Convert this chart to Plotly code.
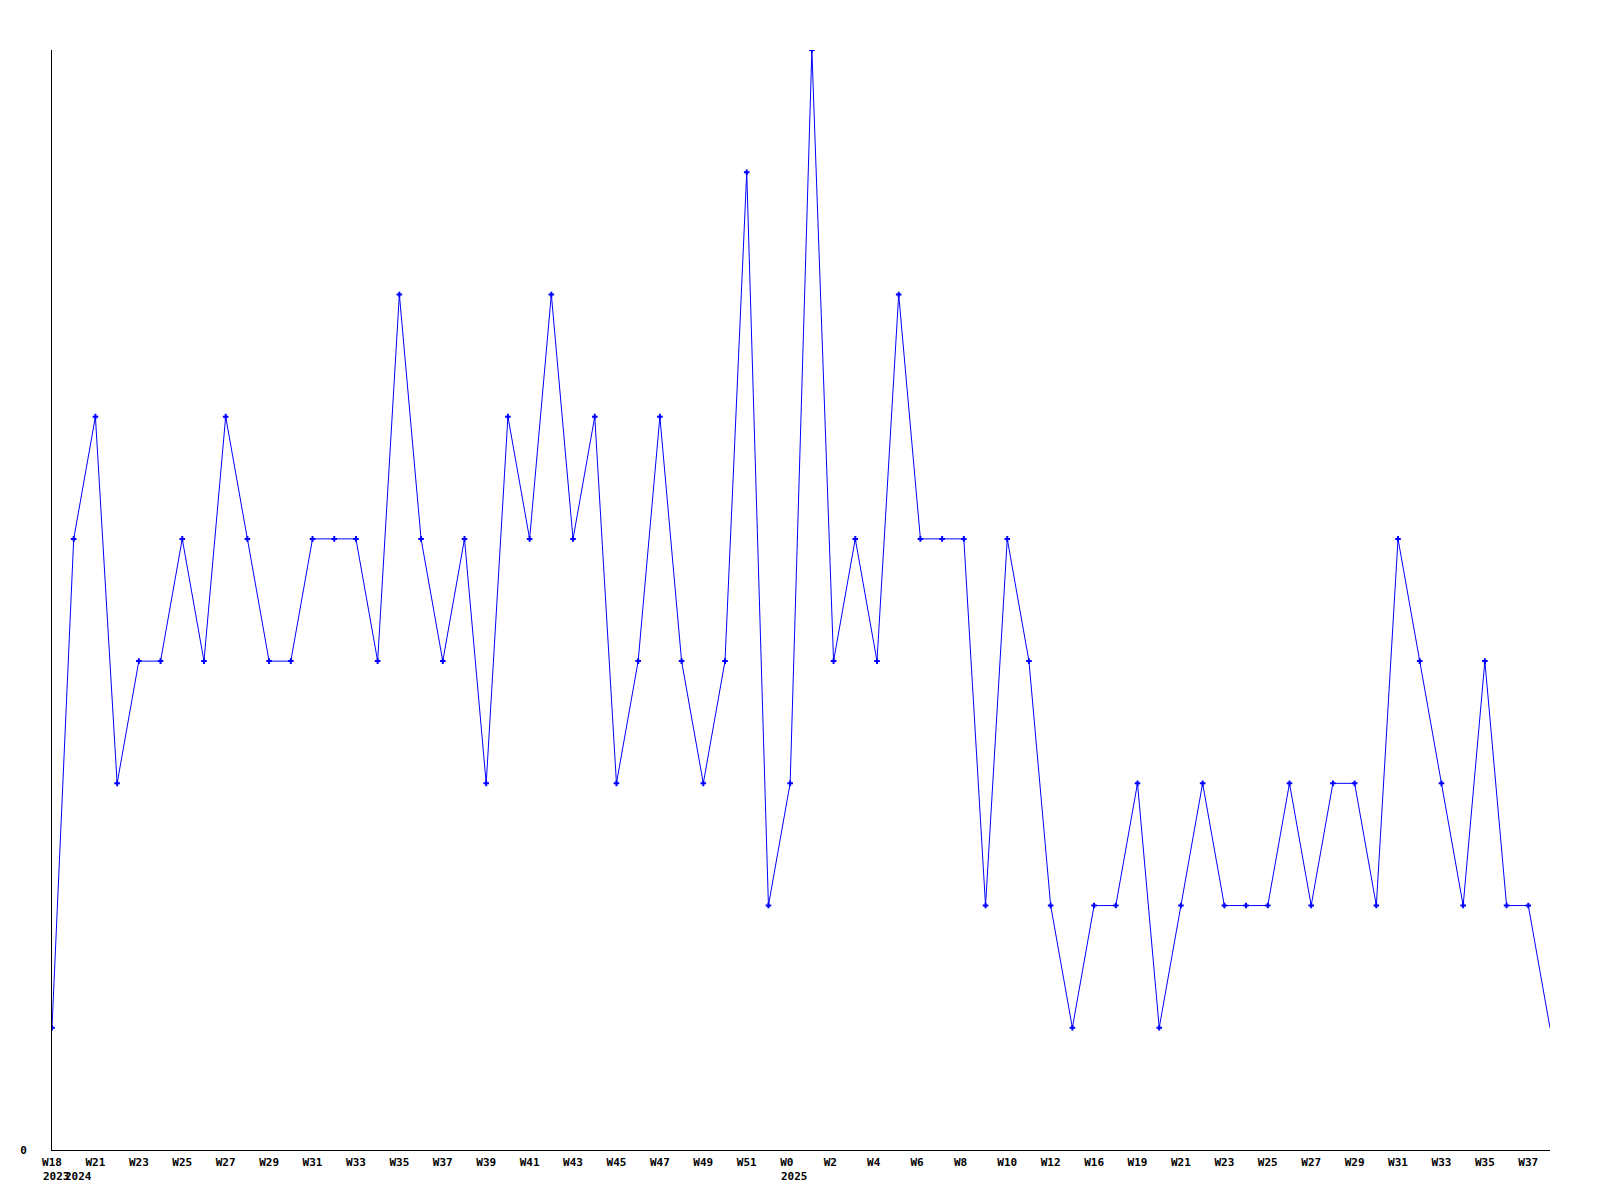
import plotly.graph_objects as go

# semanas (categorias) e contagens
weeks = [
    "W18", "W20", "W21", "W22", "W23", "W24", "W25", "W26", "W27", "W28",
    "W29", "W30", "W31", "W32", "W33", "W34", "W35", "W36", "W37", "W38",
    "W39", "W40", "W41", "W42", "W43", "W44", "W45", "W46", "W47", "W48",
    "W49", "W50", "W51", "W52", "W0", "W1", "W2", "W3", "W4", "W5",
    "W6", "W7", "W8", "W9", "W10", "W11", "W12", "W14", "W16", "W17",
    "W19", "W20", "W21", "W22", "W23", "W24", "W25", "W26", "W27", "W28",
    "W29", "W30", "W31", "W32", "W33", "W34", "W35", "W36", "W37", "W38",
]
counts = [
    1, 5, 6, 3, 4, 4, 5, 4, 6, 5,
    4, 4, 5, 5, 5, 4, 7, 5, 4, 5,
    3, 6, 5, 7, 5, 6, 3, 4, 6, 4,
    3, 4, 8, 2, 3, 9, 4, 5, 4, 7,
    5, 5, 5, 2, 5, 4, 2, 1, 2, 2,
    3, 1, 2, 3, 2, 2, 2, 3, 2, 3,
    3, 2, 5, 4, 3, 2, 4, 2, 2, 1,
]
# rótulo de ano na posição da semana
year_pos = [0, 1, 34]
year_text = ["2023", "2024", "2025"]

idx = list(range(len(weeks)))
tick_idx = idx[::2]
tick_txt = [weeks[i].ljust(3, "\u00a0") for i in tick_idx]

FONT = dict(family="DejaVu Sans Mono", size=11, color="black", weight="bold")

fig = go.Figure()

fig.add_trace(go.Scatter(
    x=idx, y=counts,
    mode="lines",
    line=dict(color="#0000ff", width=1),
    hoverinfo="skip",
))
# marcadores (o último ponto fica cortado na borda)
fig.add_trace(go.Scatter(
    x=idx[:-1], y=counts[:-1],
    mode="markers",
    marker=dict(symbol="cross-thin", size=4, color="#0000ff",
                line=dict(color="#0000ff", width=2)),
    hoverinfo="skip",
))

for pos, txt in zip(year_pos, year_text):
    fig.add_annotation(
        x=pos, xref="x", y=-0.0245, yref="paper",
        text=txt, showarrow=False,
        xanchor="left", yanchor="middle", xshift=-11,
        font=FONT,
    )

# a página tem 8px de margem no body
fig.update_layout(
    width=1584, height=1184,
    margin=dict(l=42, r=42, t=42, b=42),
    plot_bgcolor="white", paper_bgcolor="white",
    showlegend=False,
    font=FONT,
    xaxis=dict(
        range=[0, len(weeks) - 1],
        tickmode="array", tickvals=tick_idx, ticktext=tick_txt,
        showgrid=False, zeroline=False,
        showline=True, linecolor="black", linewidth=1,
        ticks="", tickangle=0, ticklabelstandoff=2,
        tickfont=FONT,
    ),
    yaxis=dict(
        range=[0, max(counts)],
        tickmode="array", tickvals=[0], ticktext=["0"],
        showgrid=False, zeroline=False,
        showline=True, linecolor="black", linewidth=1,
        ticks="", ticklabelstandoff=22,
        tickfont=FONT,
    ),
)

fig.write_html("out.html")
